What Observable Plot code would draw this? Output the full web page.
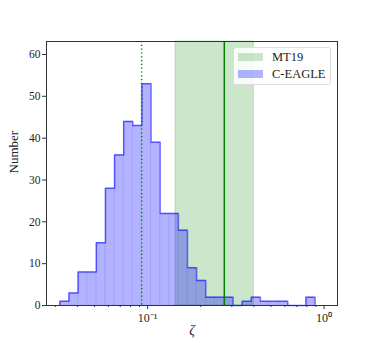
<!DOCTYPE html>
<html>
<head>
<meta charset="utf-8">
<script src="https://cdn.jsdelivr.net/npm/d3@7"></script>
<script src="https://cdn.jsdelivr.net/npm/@observablehq/plot@0.6"></script>
<style>
  html, body { margin: 0; padding: 0; background: #fff; }
  #wrap { position: relative; width: 374px; height: 343px; font-family: "Liberation Serif", serif; }
  #legend { position: absolute; left: 233px; top: 47px; width: 96px; height: 36px;
    background: rgba(255,255,255,0.85); border: 1px solid #ddd; border-radius: 3px; }
  .row { position: absolute; left: 4px; height: 14px; display: flex; align-items: center; font-size: 12.5px; color: #222; }
  .sw { width: 25px; height: 8px; margin-right: 9px; }
</style>
</head>
<body>
<div id="wrap">
  <div id="chart"></div>
  <div id="legend">
    <div class="row" style="top:2px"><div class="sw" style="background:rgba(0,128,0,0.2)"></div>MT19</div>
    <div class="row" style="top:19px"><div class="sw" style="background:rgba(0,0,255,0.3)"></div>C-EAGLE</div>
  </div>
</div>
<script>
// Histogram bin edges (log-spaced) and counts
const binEdges = [0.03184, 0.03586, 0.04040, 0.04549, 0.05124, 0.05771, 0.06500, 0.07321,
  0.08245, 0.09285, 0.1046, 0.1178, 0.1327, 0.1494, 0.1683, 0.1895, 0.2135, 0.2404,
  0.2708, 0.3050, 0.3434, 0.3868, 0.4356, 0.4906, 0.5525, 0.6223, 0.7008, 0.7893, 0.8890];
const counts = [1, 3, 8, 8, 15, 28, 36, 44, 43, 53, 39, 22, 22, 18, 9, 6, 2, 2, 2, 0, 1, 2, 1, 1, 1, 0, 0, 2];

// MT19 band and reference lines
const mt19Band = [0.144, 0.40];
const mt19Line = 0.272;
const dottedLine = 0.0925;

// Axis ticks
const xDomain = [0.02674, 1.191];
const yDomain = [0, 63.1];
const xMajorTicks = [0.1, 1];
const xMajorLabels = ["10\u207B\u00B9", "10\u2070"];
const xMinorTicks = [0.03, 0.04, 0.05, 0.06, 0.07, 0.08, 0.09, 0.2, 0.3, 0.4, 0.5, 0.6, 0.7, 0.8, 0.9];
const yTicks = [0, 10, 20, 30, 40, 50, 60];

const bins = counts.map((c, i) => ({x1: binEdges[i], x2: binEdges[i + 1], y: c}));
const outline = [{x: binEdges[0], y: 0}];
counts.forEach((c, i) => outline.push({x: binEdges[i], y: c}));
outline.push({x: binEdges[binEdges.length - 1], y: counts[counts.length - 1]});
outline.push({x: binEdges[binEdges.length - 1], y: 0});

const chart = Plot.plot({
  width: 374,
  height: 343,
  marginLeft: 46,
  marginRight: 37,
  marginTop: 41,
  marginBottom: 38,
  style: {fontFamily: "Liberation Serif, serif", fontSize: "11px", color: "#222", background: "#fff"},
  x: {type: "log", domain: xDomain},
  y: {domain: yDomain},
  marks: [
    Plot.rectX([{a: mt19Band[0], b: mt19Band[1]}], {x1: "a", x2: "b", fill: "green", fillOpacity: 0.2, stroke: "green", strokeOpacity: 0.2}),
    Plot.rectY(bins, {x1: "x1", x2: "x2", y: "y", fill: "blue", fillOpacity: 0.3, stroke: "blue", strokeOpacity: 0.06, inset: 0}),
    Plot.line(outline, {x: "x", y: "y", curve: "step-after", stroke: "blue", strokeOpacity: 0.55, strokeWidth: 1.5}),
    Plot.ruleX([dottedLine], {stroke: "green", strokeWidth: 1.5, strokeDasharray: "1.2,2.6"}),
    Plot.ruleX([mt19Line], {stroke: "green", strokeWidth: 1.5}),
    Plot.axisX(xMinorTicks, {tickSize: 2, tickFormat: () => "", stroke: "#333", label: null}),
    Plot.axisX(xMajorTicks, {tickSize: 4, tickFormat: (d, i) => xMajorLabels[xMajorTicks.indexOf(d)], stroke: "#333", fontSize: 12, tickPadding: 4, label: null}),
    Plot.axisY(yTicks, {tickSize: 4, stroke: "#333", fontSize: 11.5, tickPadding: 2, label: null}),
    Plot.text(["\u03B6"], {frameAnchor: "bottom", dy: 29, fontStyle: "italic", fontSize: 14, fill: "#222"}),
    Plot.text(["Number"], {frameAnchor: "left", dx: -33, rotate: -90, fontSize: 13, fill: "#222"}),
    Plot.frame({stroke: "#333", strokeWidth: 1})
  ]
});
document.getElementById("chart").appendChild(chart);
</script>
</body>
</html>
